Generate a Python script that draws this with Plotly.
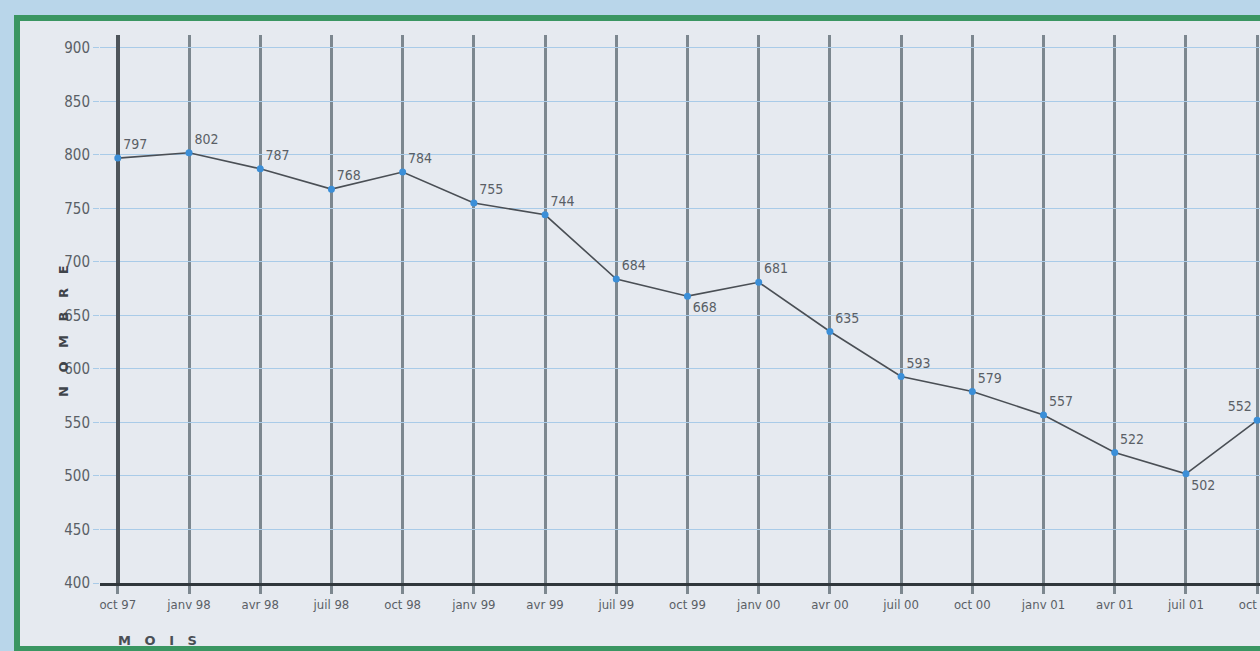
import plotly.graph_objects as go

months = ["oct 97", "janv 98", "avr 98", "juil 98", "oct 98", "janv 99", "avr 99",
          "juil 99", "oct 99", "janv 00", "avr 00", "juil 00", "oct 00", "janv 01",
          "avr 01", "juil 01", "oct 01"]
values = [797, 802, 787, 768, 784, 755, 744, 684, 668, 681, 635, 593, 579, 557, 522, 502, 552]
y_ticks = [400, 450, 500, 550, 600, 650, 700, 750, 800, 850, 900]

idx = list(range(len(months)))
label_pos = ["top right"] * len(values)
label_pos[8] = "bottom right"
label_pos[15] = "bottom right"
label_pos[16] = "top left"

FONT = "DejaVu Sans Condensed, Liberation Sans Narrow, Liberation Sans, sans-serif"
GREY = "#5a5f66"
NB = "\u00a0"

fig = go.Figure()
fig.add_trace(go.Scatter(
    x=idx, y=values, mode="lines+markers+text",
    line=dict(color="#4a4f55", width=1.6),
    marker=dict(color="#3b8fd8", size=7),
    text=[str(v) for v in values], textposition=label_pos,
    textfont=dict(family=FONT, size=14, color=GREY),
    cliponaxis=False, showlegend=False, hoverinfo="skip",
))

W, H = 1260, 651
ml, mr, mt, mb = 100, 0, 35, 68
pw, ph = W - ml - mr, H - mt - mb

def px(x):
    return (x - ml) / pw

def py(y):
    return (H - mb - y) / ph

fig.add_shape(type="rect", xref="paper", yref="paper",
              x0=px(17), x1=1.05, y0=py(649), y1=py(18),
              line=dict(color="#3a9662", width=6), fillcolor="#e6eaf0", layer="below")

fig.add_annotation(text=(NB * 3).join("MOIS"), xref="paper", yref="paper",
                   x=px(116), y=py(640), xanchor="left", yanchor="middle",
                   showarrow=False,
                   font=dict(family="DejaVu Sans", size=13, color="#4a4f55", weight="bold"))
fig.add_annotation(text=(NB * 3).join("NOMBRE"), xref="paper", yref="paper",
                   x=px(63), y=py(331), xanchor="center", yanchor="middle",
                   textangle=-90, showarrow=False,
                   font=dict(family="DejaVu Sans", size=13, color="#3f444a", weight="bold"))

fig.update_layout(
    width=W, height=H,
    margin=dict(l=ml, r=mr, t=mt, b=mb, autoexpand=False),
    paper_bgcolor="#b9d6ea", plot_bgcolor="rgba(0,0,0,0)",
    font=dict(family=FONT, color=GREY),
    xaxis=dict(
        range=[-0.25, 16.04], tickvals=idx, ticktext=months,
        showgrid=True, gridcolor="#7c878f", gridwidth=3,
        zeroline=True, zerolinecolor="#4d545a", zerolinewidth=3.4,
        showline=True, linecolor="#30373c", linewidth=2.6,
        ticks="outside", ticklen=8, tickwidth=3, tickcolor="#7c878f",
        tickfont=dict(family=FONT, size=13, color=GREY),
        ticklabeloverflow="allow", automargin=False,
        fixedrange=True,
    ),
    yaxis=dict(
        range=[400, 912], tickvals=y_ticks,
        showgrid=True, gridcolor="#a9cbe8", gridwidth=1,
        zeroline=False, showline=False,
        ticks="outside", ticklen=6, tickcolor="#a9cbe8",
        tickfont=dict(family=FONT, size=15, color=GREY),
        automargin=False,
        fixedrange=True,
    ),
)

fig.write_html(
    "out.html",
    config={"displayModeBar": False, "staticPlot": True},
    post_script="document.body.style.margin='0';document.body.style.background='#b9d6ea';"
                "document.body.style.overflow='hidden';",
)
